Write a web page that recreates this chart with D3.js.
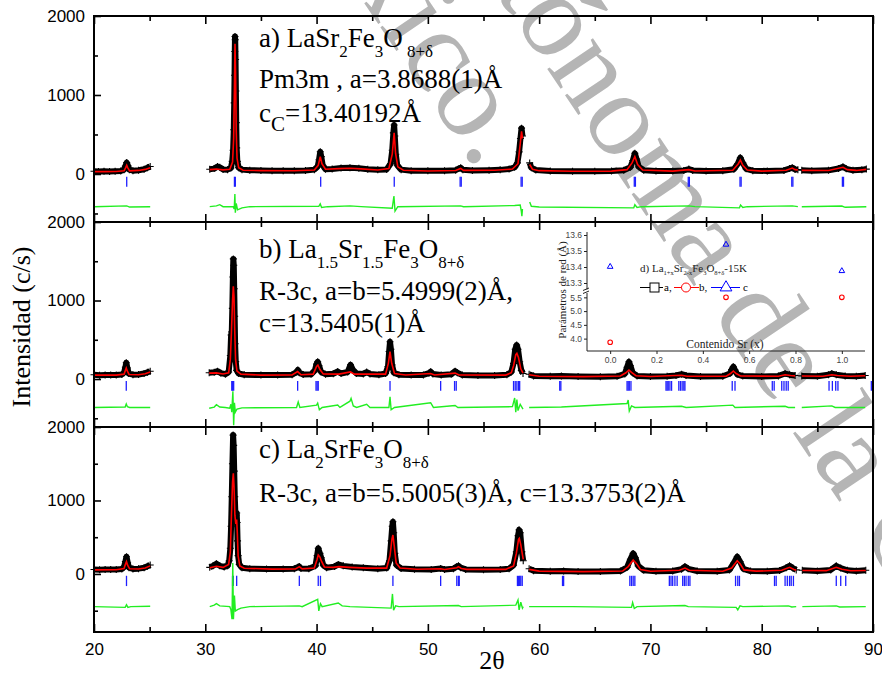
<!DOCTYPE html>
<html>
<head>
<meta charset="utf-8">
<script src="https://cdnjs.cloudflare.com/ajax/libs/d3/7.8.5/d3.min.js"></script>
<style>
  body { margin: 0; background: #fff; }
  svg { display: block; }
</style>
</head>
<body>
<svg width="882" height="674"></svg>
<script>
// ---- dati ----
const twoThetaMajor = [20, 30, 40, 50, 60, 70, 80, 90];
const twoThetaMinor = [25, 35, 45, 55, 65, 75, 85];
const intensityMajor = [0, 1000, 2000];
const intensityMinor = [-500, 500, 1500];

// a) LaSr2Fe3O8+d  [2theta, conteggi], null = interruzione
const obsA = [
  [20.0,35],[20.4,30],[20.9,33],[21.4,30],[21.9,34],[22.4,38],[22.7,55],[22.82,100],[22.94,145],[23.05,105],[23.18,55],[23.5,42],[24.0,48],[24.5,60],[24.8,78],[25.05,95],
  null,
  [30.4,60],[30.8,68],[31.1,95],[31.3,85],[31.6,58],[32.0,55],[32.3,75],[32.42,160],[32.5,300],[32.56,560],[32.6,900],[32.63,1250],[32.65,1550],[32.67,1740],[32.69,1700],[32.72,1450],[32.75,1050],[32.78,650],[32.82,330],[32.88,160],[33.0,80],[33.3,55],[34,48],[35,45],[36,42],[37,40],[38,42],[39,45],[39.8,55],[40.1,95],[40.22,180],[40.33,282],[40.42,220],[40.55,110],[40.8,60],[41.4,62],[42.2,75],[43.0,80],[43.8,72],[44.6,60],[45.5,52],[46.3,58],[46.65,130],[46.8,300],[46.9,520],[46.97,620],[47.03,480],[47.12,250],[47.25,110],[47.6,55],[48.5,42],[50,40],[51.5,42],[52.5,48],[52.8,70],[52.95,78],[53.15,52],[54,45],[55.5,48],[56.5,52],[57.3,62],[57.8,85],[58.05,140],[58.2,280],[58.32,450],[58.42,580],[58.5,480],
  null,
  [59.15,140],[59.3,80],[59.7,50],[61,38],[63,35],[65,35],[66.5,38],[67.6,48],[68.2,85],[68.42,170],[68.6,262],[68.75,190],[68.95,90],[69.4,48],[70.5,38],[72,38],[73.0,45],[73.45,62],[73.8,45],[75,38],[76.5,40],[77.5,60],[77.85,130],[78.08,206],[78.3,140],[78.6,65],[79.2,42],[80.5,38],[82,45],[82.5,68],[82.75,80],[83.0,58],[83.25,55],
  null,
  [83.6,48],[84.5,42],[86,46],[86.9,70],[87.3,92],[87.6,65],[88.2,46],[89,52],[89.4,62]
];
const calcA = [
  [20,30],[21,30],[22,32],[22.7,40],[22.85,80],[22.94,110],[23.05,75],[23.2,40],[24,45],[24.6,58],[25.05,80],
  null,
  [30.4,55],[31,62],[31.6,52],[32.2,60],[32.45,150],[32.55,450],[32.62,1100],[32.67,1650],[32.72,1300],[32.78,550],[32.85,200],[33,80],[33.4,48],[35,42],[38,40],[39.8,50],[40.15,110],[40.33,220],[40.48,130],[40.8,60],[42,68],[43,72],[44,65],[45.5,50],[46.5,70],[46.8,250],[46.97,520],[47.1,260],[47.3,90],[47.8,48],[50,38],[52.5,44],[52.95,70],[53.2,46],[56,48],[57.6,62],[58.1,130],[58.3,380],[58.42,540],[58.5,450],
  null,
  [59.15,120],[59.4,60],[60,42],[63,34],[66.5,36],[67.9,55],[68.35,140],[68.6,220],[68.85,120],[69.3,50],[72,36],[73.45,55],[74,38],[77.4,48],[77.9,130],[78.08,177],[78.3,110],[78.7,50],[80,36],[82.2,48],[82.75,75],[83.0,55],[83.25,52],
  null,
  [83.6,45],[86,44],[87.3,85],[87.7,55],[88.5,45],[89.4,58]
];
const diffA = [
  [20,0],[22.94,10],[23.2,-5],[25.05,0],
  null,
  [30.4,0],[31.0,10],[31.3,25],[31.6,0],[32.5,0],[32.6,-30],[32.66,160],[32.7,-76],[32.78,40],[32.9,-40],[33.3,-15],[34,0],[40.2,5],[40.33,35],[40.45,-10],[41,0],[43,10],[44,0],[46.8,-20],[46.95,135],[47.05,-55],[47.3,0],[52.95,10],[53.2,0],[57.8,15],[58.3,20],[58.4,-60],[58.45,-120],[58.5,-30],
  null,
  [59.15,60],[59.3,5],[60,-5],[68.5,-15],[68.6,25],[68.8,-10],[69.2,0],[73.45,10],[74,0],[78.0,-15],[78.1,20],[78.3,-10],[78.7,0],[82.75,10],[83.25,0],
  null,
  [83.6,0],[87.2,8],[87.5,-8],[89.4,0]
];
const braggA = [22.94, 32.62, 32.7, 40.37, 46.98, 52.9, 53.0, 58.38, 58.48, 68.55, 68.65, 73.4, 73.5, 78.05, 78.15, 82.7, 82.8, 87.25, 87.35];

// b) La1.5Sr1.5Fe3O8+d
const obsB = [
  [20,55],[20.5,48],[21,52],[21.5,50],[22,52],[22.5,58],[22.7,80],[22.82,150],[22.9,208],[23.0,140],[23.12,70],[23.5,55],[24,58],[24.5,70],[24.8,85],[25.05,100],
  null,
  [30.35,80],[30.8,85],[31.1,100],[31.4,75],[31.8,62],[32.1,90],[32.25,300],[32.32,560],[32.38,600],[32.43,900],[32.48,1300],[32.52,1530],[32.56,1450],[32.6,1150],[32.64,800],[32.68,450],[32.74,220],[32.82,110],[33,70],[33.5,55],[35,50],[36.5,50],[37.8,55],[38.2,90],[38.32,115],[38.45,80],[38.8,58],[39.5,60],[39.85,110],[40.0,190],[40.1,220],[40.22,170],[40.4,90],[40.8,62],[41.5,68],[41.9,95],[42.2,70],[42.8,90],[43.05,180],[43.25,120],[43.6,70],[44.2,65],[44.5,90],[44.8,65],[45.6,55],[46.2,70],[46.42,160],[46.52,350],[46.6,475],[46.68,380],[46.78,180],[46.95,80],[47.4,55],[48.5,50],[49.6,52],[50.1,75],[50.25,93],[50.45,65],[51.2,52],[52.1,60],[52.45,100],[52.65,80],[53.1,50],[54.5,45],[56,45],[57.1,55],[57.5,90],[57.7,200],[57.85,380],[57.98,433],[58.1,380],[58.25,220],[58.4,110],[58.55,70],
  null,
  [59.1,60],[59.5,40],[61,35],[62,38],[63.5,32],[65.5,30],[67,35],[67.7,65],[67.9,150],[68.07,220],[68.2,170],[68.4,80],[68.8,40],[70,32],[71.5,35],[72.3,45],[72.8,62],[73.2,45],[74.5,32],[76.5,35],[77.15,70],[77.3,120],[77.45,157],[77.6,115],[77.8,60],[78.3,38],[80,32],[81.5,40],[82.1,70],[82.5,55],[83.0,45],
  null,
  [83.6,40],[85,35],[86.0,55],[86.3,70],[86.7,55],[87.5,38],[88.5,35],[89.3,45]
];
const calcB = [
  [20,50],[22,50],[22.7,62],[22.82,110],[22.9,140],[23.0,100],[23.15,58],[24,55],[24.6,68],[25.05,90],
  null,
  [30.35,75],[31,78],[31.6,65],[32.1,80],[32.25,250],[32.35,600],[32.45,1000],[32.52,1180],[32.58,1050],[32.64,650],[32.72,250],[32.85,100],[33.2,62],[35,50],[37.8,52],[38.3,95],[38.6,55],[39.7,62],[40.0,160],[40.12,178],[40.3,120],[40.6,65],[42,62],[43.05,90],[43.4,62],[46.2,62],[46.45,200],[46.6,348],[46.75,200],[47,70],[48,52],[50.25,70],[50.6,52],[52.45,75],[52.8,52],[57,50],[57.5,80],[57.7,170],[57.9,310],[58.0,327],[58.15,270],[58.35,130],[58.55,75],
  null,
  [59.1,55],[60,36],[64,30],[67.3,38],[67.8,80],[68.07,115],[68.3,85],[68.7,42],[70,32],[72.8,48],[73.3,36],[76.8,36],[77.2,70],[77.45,102],[77.7,70],[78.1,38],[81.5,36],[82.1,55],[82.6,45],[83,40],
  null,
  [83.6,38],[85.5,36],[86.3,55],[86.8,45],[88,35],[89.3,42]
];
const diffB = [
  [20,0],[22.8,5],[22.9,45],[23.0,10],[23.2,0],[25.05,0],
  null,
  [30.35,-10],[30.8,5],[31.0,35],[31.3,5],[31.8,0],[32.2,-10],[32.3,40],[32.38,-60],[32.48,205],[32.55,-225],[32.62,60],[32.7,-60],[32.85,-20],[33.3,-5],[38.2,0],[38.35,70],[38.5,0],[40.0,30],[40.1,55],[40.25,-30],[40.5,0],[41.9,30],[42.1,0],[43.0,80],[43.1,115],[43.3,20],[43.6,0],[44.5,40],[44.8,0],[46.5,0],[46.6,135],[46.7,-30],[47,0],[50.25,60],[50.5,0],[52.45,25],[52.7,0],[57.6,10],[57.8,120],[57.9,-60],[58.0,100],[58.1,-40],[58.3,40],[58.55,-20],
  null,
  [59.1,0],[62,5],[67.9,50],[68.0,95],[68.1,-45],[68.3,20],[68.6,0],[72.8,15],[73.2,0],[77.4,30],[77.6,0],[82.1,15],[82.4,0],[83,0],
  null,
  [83.6,0],[86.3,20],[86.6,0],[89.3,0]
];
const braggB = [22.9, 32.38, 32.45, 32.55, 38.3, 39.95, 40.05, 40.15, 46.6, 51.15, 52.4, 52.55, 57.7, 57.85, 58.0, 58.15, 58.25, 61.85, 61.95, 67.9, 68.0, 68.1, 68.25, 71.4, 71.5, 71.6, 71.75, 71.9, 72.55, 72.7, 72.85, 73.0, 73.1, 77.35, 77.6, 80.95, 81.12, 81.8, 82.0, 82.2, 82.38, 86.05, 86.35, 86.65, 86.85, 89.85];

// c) La2SrFe3O8+d
const obsC = [
  [20,60],[20.5,58],[21,62],[21.5,60],[22,62],[22.5,68],[22.7,95],[22.82,170],[22.92,235],[23.02,160],[23.15,85],[23.5,68],[24,72],[24.5,85],[24.8,105],[25.05,122],
  null,
  [30.4,90],[30.7,110],[31.0,140],[31.3,110],[31.7,95],[32.0,110],[32.15,180],[32.25,350],[32.32,650],[32.38,1050],[32.44,1500],[32.5,1890],[32.55,1750],[32.6,1400],[32.65,1050],[32.7,850],[32.76,800],[32.82,830],[32.86,700],[32.9,450],[32.95,250],[33.05,130],[33.3,85],[34,72],[35.5,68],[37,66],[38,70],[38.35,95],[38.45,100],[38.6,75],[39.3,70],[39.9,110],[40.05,250],[40.15,350],[40.3,280],[40.42,220],[40.6,120],[40.9,85],[41.6,100],[41.95,130],[42.4,110],[43.2,95],[44.2,85],[45.5,72],[46.3,80],[46.55,180],[46.7,450],[46.8,650],[46.86,710],[46.93,560],[47.03,280],[47.18,120],[47.6,75],[48.8,65],[50.3,62],[51.15,75],[51.5,62],[52.3,70],[52.6,100],[52.75,110],[52.95,85],[53.4,62],[55,58],[56.5,60],[57.3,70],[57.7,120],[57.95,300],[58.1,520],[58.2,600],[58.3,560],[58.45,300],[58.57,180],
  null,
  [59.1,70],[59.5,45],[61,36],[62.2,40],[63.5,34],[65.5,32],[67.3,40],[67.9,90],[68.2,200],[68.45,280],[68.65,220],[68.9,110],[69.4,50],[70.5,36],[72,40],[72.8,65],[73.1,100],[73.4,70],[74.2,40],[76,36],[77.1,55],[77.5,150],[77.8,235],[78.05,170],[78.35,70],[79,40],[80.5,36],[81.6,48],[82.2,85],[82.5,110],[82.8,80],[83.1,55],
  null,
  [83.65,50],[85,40],[86.2,55],[86.7,110],[87.1,80],[87.7,50],[88.5,40],[89.35,50]
];
const calcC = [
  [20,55],[22,58],[22.7,75],[22.82,130],[22.92,167],[23.02,120],[23.2,70],[24,68],[24.6,82],[25.05,110],
  null,
  [30.4,85],[31,105],[31.6,90],[32.1,130],[32.25,300],[32.35,800],[32.45,1250],[32.52,1370],[32.58,1200],[32.66,800],[32.74,680],[32.82,740],[32.88,550],[32.95,250],[33.1,110],[33.5,78],[36,66],[38.1,68],[38.45,100],[38.7,70],[39.8,80],[40.05,200],[40.15,258],[40.3,230],[40.45,170],[40.7,95],[41.5,90],[42,100],[43,90],[44.5,80],[46.3,80],[46.6,250],[46.78,480],[46.86,530],[46.98,380],[47.15,150],[47.5,80],[49,64],[51.15,70],[51.5,60],[52.6,85],[52.75,100],[53,75],[53.5,62],[57,62],[57.7,110],[57.95,280],[58.15,470],[58.22,485],[58.35,400],[58.57,200],
  null,
  [59.1,62],[60,38],[64,32],[67.5,40],[68.0,100],[68.45,190],[68.75,140],[69.1,60],[70,36],[72.6,50],[73.1,80],[73.5,50],[76.5,36],[77.3,80],[77.8,180],[78.05,140],[78.4,55],[79.5,38],[81.8,50],[82.5,90],[82.9,60],[83.1,52],
  null,
  [83.65,48],[85.8,45],[86.7,90],[87.2,65],[88,44],[89.35,48]
];
const diffC = [
  [20,0],[22.8,-10],[22.92,25],[23.05,-10],[23.3,0],[25.05,5],
  null,
  [30.4,0],[30.8,20],[31.0,40],[31.3,10],[32.2,0],[32.3,-40],[32.4,-170],[32.47,595],[32.53,-170],[32.62,150],[32.7,-60],[32.9,-40],[33.2,-20],[34,0],[38.45,10],[38.7,0],[40.1,100],[40.2,-58],[40.35,40],[40.5,0],[41.95,50],[42.3,10],[43,0],[46.7,-20],[46.82,173],[46.92,-50],[47.1,10],[47.4,0],[52.75,15],[53,0],[57.9,20],[58.1,90],[58.2,-45],[58.35,60],[58.5,-20],[58.57,0],
  null,
  [59.1,0],[63,0],[68.3,-10],[68.4,55],[68.55,-25],[68.8,0],[73.1,15],[73.4,0],[77.7,-10],[77.85,-45],[78.05,10],[78.3,0],[82.4,10],[82.7,-5],[83.1,0],
  null,
  [83.65,0],[86.7,10],[87,-5],[89.35,0]
];
const braggC = [22.92, 32.45, 32.52, 32.82, 38.45, 40.15, 40.35, 46.86, 51.15, 52.6, 52.75, 52.82, 58.05, 58.15, 58.25, 58.35, 58.48, 62.1, 62.2, 68.15, 68.3, 68.45, 68.6, 71.7, 71.85, 72.0, 72.2, 72.4, 72.9, 73.05, 73.2, 73.4, 73.55, 77.65, 77.85, 78.0, 81.15, 81.3, 82.1, 82.3, 82.5, 82.65, 82.85, 86.7, 87.1, 87.55];

// d) inset: parametri di rete vs contenuto di Sr
const srContent = [0, 0.5, 1.0];
const paramA = [3.8688, 5.4999, 5.5005];
const paramB = [3.8688, 5.4999, 5.5005];
const paramC = [13.40192, 13.5405, 13.3753];
const insetXTicks = [0, 0.2, 0.4, 0.6, 0.8, 1.0];
const insetUpperTicks = [13.3, 13.4, 13.5, 13.6];
const insetLowerTicks = [4.0, 4.5, 5.0, 5.5];

// ---- impostazioni ----
const svg = d3.select("svg");
const SERIF = "'Liberation Serif', 'Times New Roman', serif";
const SANS = "'Liberation Sans', Arial, sans-serif";
const left = 94, right = 873;

const x = d3.scaleLinear().domain([20, 90]).range([left, right]);

svg.append("rect").attr("width", 882).attr("height", 674).attr("fill", "#fff");

// filigrana grigia diagonale
const wm = svg.append("g")
  .attr("transform", "translate(470,160) rotate(56)")
  .attr("font-family", SERIF)
  .attr("font-size", 120)
  .attr("fill", "#b5b5b5");
wm.append("text").attr("x", 14).attr("y", 0).attr("text-anchor", "end").text("de México.");
wm.append("text").attr("x", -275).attr("y", -115).text("Autónoma de la Ciudad");

const panels = [
  { obs: obsA, calc: calcA, diff: diffA, bragg: braggA, top: 16, bottom: 222, ymin: -608, diffOffset: -414, tick: [-35, -162] },
  { obs: obsB, calc: calcB, diff: diffB, bragg: braggB, top: 222, bottom: 427, ymin: -611, diffOffset: -362, tick: [-25, -150] },
  { obs: obsC, calc: calcC, diff: diffC, bragg: braggC, top: 427, bottom: 632, ymin: -790, diffOffset: -445, tick: [-25, -165] }
];

const cross = "M-3.5,0H3.5M0,-3.5V3.5";

panels.forEach((p, i) => {
  const y = d3.scaleLinear().domain([p.ymin, 2000]).range([p.bottom, p.top]);
  const g = svg.append("g");

  const line = d3.line()
    .defined(d => d !== null)
    .x(d => x(d[0]))
    .y(d => y(d[1]));

  // dati osservati: banda nera + croci
  g.append("path")
    .attr("d", line(p.obs))
    .attr("fill", "none")
    .attr("stroke", "#000")
    .attr("stroke-width", 6)
    .attr("stroke-linejoin", "round");

  g.selectAll(".obs")
    .data(p.obs.filter(d => d !== null))
    .join("path")
    .attr("class", "obs")
    .attr("d", cross)
    .attr("transform", d => `translate(${x(d[0])},${y(d[1])})`)
    .attr("stroke", "#000")
    .attr("stroke-width", 1.1);

  // calcolato
  g.append("path")
    .attr("d", line(p.calc))
    .attr("fill", "none")
    .attr("stroke", "#ff0000")
    .attr("stroke-width", 1.6);

  // posizioni di Bragg
  g.selectAll(".bragg")
    .data(p.bragg)
    .join("line")
    .attr("class", "bragg")
    .attr("x1", d => x(d)).attr("x2", d => x(d))
    .attr("y1", y(p.tick[0])).attr("y2", y(p.tick[1]))
    .attr("stroke", "#1f1fff")
    .attr("stroke-width", 1.3);

  // differenza
  const diffLine = d3.line()
    .defined(d => d !== null)
    .x(d => x(d[0]))
    .y(d => y(d[1] + p.diffOffset));
  g.append("path")
    .attr("d", diffLine(p.diff))
    .attr("fill", "none")
    .attr("stroke", "#22ee22")
    .attr("stroke-width", 1.4);

  // assi (tacche verso l'interno)
  g.append("g").attr("transform", `translate(${left},0)`)
    .call(d3.axisLeft(y).tickValues(intensityMajor).tickSizeInner(-7).tickSizeOuter(0).tickPadding(9).tickFormat(d3.format("d")));
  g.append("g").attr("transform", `translate(${left},0)`)
    .call(d3.axisLeft(y).tickValues(intensityMinor).tickSizeInner(-4).tickSizeOuter(0).tickFormat(""));

  g.append("g").attr("transform", `translate(0,${p.top})`)
    .call(d3.axisTop(x).tickValues(twoThetaMajor).tickSizeInner(-8).tickSizeOuter(0).tickFormat(""));
  g.append("g").attr("transform", `translate(0,${p.top})`)
    .call(d3.axisTop(x).tickValues(twoThetaMinor).tickSizeInner(-5).tickSizeOuter(0).tickFormat(""));

  g.append("g").attr("transform", `translate(0,${p.bottom})`)
    .call(d3.axisBottom(x).tickValues(twoThetaMajor).tickSizeInner(-8).tickSizeOuter(0).tickPadding(11)
      .tickFormat(i === 2 ? d3.format("d") : ""));
  g.append("g").attr("transform", `translate(0,${p.bottom})`)
    .call(d3.axisBottom(x).tickValues(twoThetaMinor).tickSizeInner(-5).tickSizeOuter(0).tickFormat(""));

  g.selectAll(".domain").remove();
  g.selectAll(".tick line").attr("stroke", "#000").attr("stroke-width", 1.6);
  g.selectAll(".tick text").attr("font-family", SANS).attr("font-size", 17).attr("fill", "#000");

  // cornice
  g.append("rect")
    .attr("x", left).attr("y", p.top)
    .attr("width", right - left).attr("height", p.bottom - p.top)
    .attr("fill", "none")
    .attr("stroke", "#000")
    .attr("stroke-width", 2);
});

// testo con pedici: parts = [testo, pedice?]
function richText(xPos, yPos, parts, size, subSize, subDy) {
  const t = svg.append("text")
    .attr("x", xPos).attr("y", yPos)
    .attr("font-family", SERIF)
    .attr("font-size", size)
    .attr("fill", "#000");
  parts.forEach(([s, sub]) => {
    t.append("tspan")
      .attr("y", sub ? yPos + subDy : yPos)
      .attr("font-size", sub ? subSize : size)
      .text(s);
  });
  return t;
}

const FS = 27;
richText(259, 47, [["a) LaSr", 0], ["2", 1], ["Fe", 0], ["3", 1], ["O", 0], [" 8+δ", 1]], FS, 17, 10);
richText(259, 88, [["Pm3m , a=3.8688(1)Å", 0]], FS, 17, 10);
richText(259, 122, [["c", 0], ["C", 1], ["=13.40192Å", 0]], FS, 21, 9);

richText(259, 258, [["b) La", 0], ["1.5", 1], ["Sr", 0], ["1.5", 1], ["Fe", 0], ["3", 1], ["O", 0], ["8+δ", 1]], FS, 17, 10);
richText(259, 300, [["R-3c, a=b=5.4999(2)Å,", 0]], FS, 17, 10);
richText(259, 332, [["c=13.5405(1)Å", 0]], FS, 17, 10);

richText(259, 458, [["c) La", 0], ["2", 1], ["SrFe", 0], ["3", 1], ["O", 0], ["8+δ", 1]], FS, 17, 10);
richText(259, 502, [["R-3c, a=b=5.5005(3)Å, c=13.3753(2)Å", 0]], FS, 17, 10);

// etichette degli assi
svg.append("text")
  .attr("transform", "translate(30,327) rotate(-90)")
  .attr("text-anchor", "middle")
  .attr("font-family", SERIF)
  .attr("font-size", 26)
  .text("Intensidad (c/s)");

svg.append("text")
  .attr("x", 492).attr("y", 669)
  .attr("text-anchor", "middle")
  .attr("font-family", SERIF)
  .attr("font-size", 26)
  .text("2θ");

// ---- inset ----
const ix = d3.scaleLinear().domain([-0.1, 1.1]).range([587, 865]);
const iyUp = d3.scaleLinear().domain([13.25, 13.6]).range([291, 235]);
const iyLow = d3.scaleLinear().domain([3.55, 5.6]).range([351, 294.6]);
const inset = svg.append("g");

// asse y spezzato
inset.append("line").attr("x1", 587).attr("x2", 587).attr("y1", 232).attr("y2", 289.5).attr("stroke", "#222").attr("stroke-width", 1);
inset.append("line").attr("x1", 587).attr("x2", 587).attr("y1", 293).attr("y2", 351).attr("stroke", "#222").attr("stroke-width", 1);
inset.append("path").attr("d", "M583,290.5L589,288M583,293.5L589,291").attr("stroke", "#222").attr("fill", "none");
inset.append("line").attr("x1", 587).attr("x2", 865).attr("y1", 351).attr("y2", 351).attr("stroke", "#222").attr("stroke-width", 1);

function insetYAxis(scale, ticks) {
  const a = inset.append("g").attr("transform", "translate(587,0)")
    .call(d3.axisLeft(scale).tickValues(ticks).tickSize(3).tickPadding(2).tickFormat(d3.format(".1f")));
  a.select(".domain").remove();
}
insetYAxis(iyUp, insetUpperTicks);
insetYAxis(iyLow, insetLowerTicks);
const ixAxis = inset.append("g").attr("transform", "translate(0,351)")
  .call(d3.axisBottom(ix).tickValues(insetXTicks).tickSize(3).tickPadding(3).tickFormat(d3.format(".1f")));
ixAxis.select(".domain").remove();
inset.selectAll(".tick line").attr("stroke", "#222");
inset.selectAll(".tick text").attr("font-family", SANS).attr("font-size", 8.5).attr("fill", "#444");

// punti
const pts = srContent.map((s, i) => ({ s, a: paramA[i], b: paramB[i], c: paramC[i] }));
inset.selectAll(".pb").data(pts).join("circle")
  .attr("cx", d => ix(d.s)).attr("cy", d => iyLow(d.b)).attr("r", 2.3)
  .attr("fill", "none").attr("stroke", "#ff0000").attr("stroke-width", 1.1);
const tri = d3.symbol().type(d3.symbolTriangle).size(14);
inset.selectAll(".pc").data(pts).join("path")
  .attr("d", tri)
  .attr("transform", d => `translate(${ix(d.s)},${iyUp(d.c)})`)
  .attr("fill", "none").attr("stroke", "#0000ff").attr("stroke-width", 1);

// titolo inset
const it = inset.append("text").attr("x", 640).attr("y", 272)
  .attr("font-family", SERIF).attr("font-size", 11).attr("fill", "#222");
[["d) La", 0], ["1+x", 1], ["Sr", 0], ["2-x", 1], ["Fe", 0], ["3", 1], ["O", 0], ["8+δ", 1], ["-15K", 0]].forEach(([s, sub]) => {
  it.append("tspan").attr("y", sub ? 275 : 272).attr("font-size", sub ? 6.5 : 11).text(s);
});

// legenda
const ly = 287.5;
const legendFont = 11;
inset.append("line").attr("x1", 640).attr("x2", 663).attr("y1", ly).attr("y2", ly).attr("stroke", "#000");
inset.append("rect").attr("x", 650).attr("y", ly - 4.5).attr("width", 9).attr("height", 9).attr("fill", "#fff").attr("stroke", "#000");
inset.append("text").attr("x", 664).attr("y", ly + 3.5).attr("font-family", SERIF).attr("font-size", legendFont).text("a,");
inset.append("line").attr("x1", 674).attr("x2", 699).attr("y1", ly).attr("y2", ly).attr("stroke", "#ff0000");
inset.append("circle").attr("cx", 686).attr("cy", ly).attr("r", 4.5).attr("fill", "#fff").attr("stroke", "#ff0000");
inset.append("text").attr("x", 699).attr("y", ly + 3.5).attr("font-family", SERIF).attr("font-size", legendFont).text("b,");
inset.append("line").attr("x1", 711).attr("x2", 740).attr("y1", ly).attr("y2", ly).attr("stroke", "#0000ff");
inset.append("path").attr("d", d3.symbol().type(d3.symbolTriangle).size(60))
  .attr("transform", `translate(726,${ly})`).attr("fill", "#fff").attr("stroke", "#0000ff");
inset.append("text").attr("x", 743).attr("y", ly + 3.5).attr("font-family", SERIF).attr("font-size", legendFont).text("c");

inset.append("text")
  .attr("x", 725).attr("y", 348)
  .attr("text-anchor", "middle")
  .attr("font-family", SERIF).attr("font-size", 11.5).attr("fill", "#222")
  .text("Contenido Sr (x)");
inset.append("text")
  .attr("transform", "translate(566,290) rotate(-90)")
  .attr("text-anchor", "middle")
  .attr("font-family", SERIF).attr("font-size", 11).attr("fill", "#222")
  .text("Parámetros de red (Å)");
</script>
</body>
</html>
